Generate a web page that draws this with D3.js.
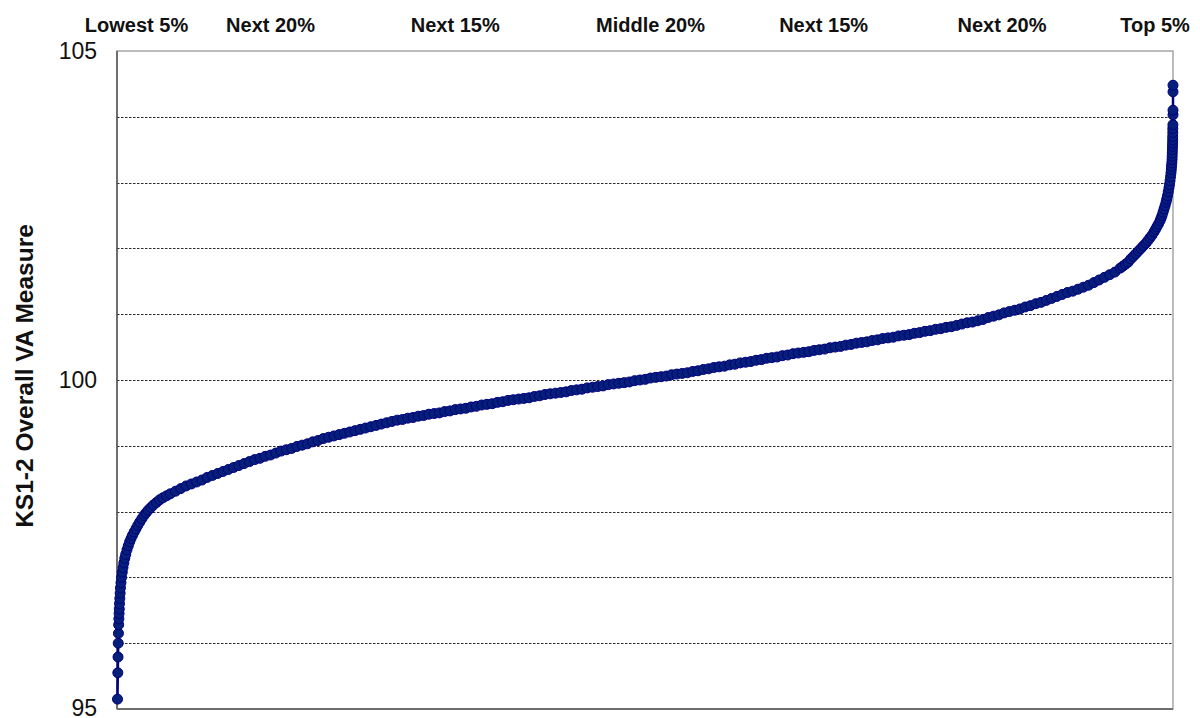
<!DOCTYPE html>
<html>
<head>
<meta charset="utf-8">
<script src="https://cdn.jsdelivr.net/npm/d3@7"></script>
<style>
  html, body { margin: 0; padding: 0; background: #fff; }
  svg { display: block; }
</style>
</head>
<body>
<svg id="chart" width="1200" height="718"></svg>
<script>
// ---- Data (percentile rank, KS1-2 VA measure) ----
const rankPct = [
  0,0.03,0.05,0.07,0.09,0.11,0.13,0.15,0.17,0.19,0.22,0.25,0.28,0.33,0.38,0.45,0.52,0.60,0.69,0.78,
  0.90,1.02,1.15,1.28,1.42,1.58,1.75,1.92,2.10,2.30,2.50,2.70,2.90,3.15,3.40,3.70,4.00,4.30,4.65,
  5,5.5,6,6.5,7,7.5,8,8.5,9,9.5,10,10.5,11,11.5,12,12.5,13,13.5,14,14.5,15,15.5,16,16.5,17,17.5,
  18,18.5,19,19.5,20,20.5,21,21.5,22,22.5,23,23.5,24,24.5,25,25.5,26,26.5,27,27.5,28,28.5,29,29.5,
  30,30.5,31,31.5,32,32.5,33,33.5,34,34.5,35,35.5,36,36.5,37,37.5,38,38.5,39,39.5,40,40.5,41,41.5,
  42,42.5,43,43.5,44,44.5,45,45.5,46,46.5,47,47.5,48,48.5,49,49.5,50,50.5,51,51.5,52,52.5,53,53.5,
  54,54.5,55,55.5,56,56.5,57,57.5,58,58.5,59,59.5,60,60.5,61,61.5,62,62.5,63,63.5,64,64.5,65,65.5,
  66,66.5,67,67.5,68,68.5,69,69.5,70,70.5,71,71.5,72,72.5,73,73.5,74,74.5,75,75.5,76,76.5,77,77.5,
  78,78.5,79,79.5,80,80.5,81,81.5,82,82.5,83,83.5,84,84.5,85,85.5,86,86.5,87,87.5,88,88.5,89,89.5,
  90,90.5,91,91.5,92,92.5,93,93.5,94,94.5,95,
  95.25,95.5,95.75,96.0,96.25,96.49,96.73,96.97,97.2,97.44,97.63,97.82,98.01,98.2,98.34,98.48,98.62,
  98.77,98.87,98.96,99.06,99.15,99.25,99.34,99.41,99.48,99.55,99.62,99.67,99.72,99.77,99.81,99.84,
  99.86,99.89,99.91,99.92,99.93,99.94,99.95,99.96,99.97,99.97,99.98,99.98,99.99,100,100,100,100
];
const vaMeasure = [
  95.15,95.55,95.79,96.00,96.15,96.28,96.37,96.45,96.52,96.60,96.68,96.76,96.84,96.92,97.00,97.08,97.15,97.22,97.29,97.35,
  97.42,97.48,97.54,97.59,97.64,97.69,97.74,97.79,97.84,97.89,97.94,97.98,98.02,98.06,98.10,98.14,98.18,98.21,98.24,
  98.27,98.31,98.35,98.39,98.42,98.45,98.48,98.52,98.55,98.58,98.61,98.64,98.67,98.70,98.73,98.76,98.79,98.81,98.84,98.86,98.89,98.92,98.94,98.96,98.99,99.01,
  99.03,99.06,99.08,99.11,99.13,99.15,99.17,99.19,99.21,99.23,99.25,99.27,99.29,99.31,99.33,99.35,99.37,99.39,99.40,99.42,99.43,99.45,99.46,99.48,
  99.49,99.50,99.52,99.53,99.55,99.56,99.57,99.59,99.60,99.62,99.63,99.64,99.66,99.67,99.69,99.70,99.71,99.72,99.73,99.75,99.76,99.78,99.79,99.80,
  99.81,99.82,99.84,99.85,99.86,99.88,99.89,99.90,99.91,99.93,99.94,99.95,99.96,99.97,99.99,100.00,100.01,100.03,100.04,100.05,100.06,100.08,100.09,100.10,
  100.11,100.13,100.14,100.16,100.17,100.19,100.20,100.21,100.23,100.24,100.26,100.27,100.28,100.30,100.31,100.33,100.34,100.35,100.37,100.38,100.40,100.41,100.42,100.43,
  100.45,100.46,100.47,100.49,100.50,100.51,100.53,100.54,100.56,100.57,100.58,100.60,100.61,100.63,100.64,100.65,100.67,100.68,100.69,100.71,100.72,100.74,100.75,100.77,
  100.78,100.80,100.81,100.83,100.85,100.87,100.88,100.90,100.92,100.95,100.97,100.99,101.02,101.04,101.06,101.08,101.11,101.13,101.16,101.18,101.21,101.24,101.27,101.30,
  101.33,101.35,101.38,101.41,101.44,101.48,101.52,101.56,101.60,101.64,101.70,
  101.73,101.76,101.79,101.84,101.88,101.92,101.96,102.00,102.04,102.08,102.12,102.16,102.20,102.25,102.29,102.33,102.37,
  102.42,102.46,102.50,102.55,102.60,102.65,102.70,102.75,102.80,102.86,102.92,102.97,103.03,103.09,103.15,103.20,
  103.25,103.30,103.35,103.40,103.45,103.50,103.55,103.60,103.65,103.70,103.76,103.82,103.88,104.03,104.10,104.38,104.48
];

const groupLabels = ["Lowest 5%", "Next 20%", "Next 15%", "Middle 20%", "Next 15%", "Next 20%", "Top 5%"];
const groupLabelPct = [1.8, 14.5, 32.0, 50.5, 66.9, 83.8, 98.3];
const yTickLabels = [95, 100, 105];
const gridValues = [96, 97, 98, 99, 100, 101, 102, 103, 104];
const yTitle = "KS1-2 Overall VA Measure";

// ---- Layout ----
const plot = { left: 117, right: 1173, top: 51, bottom: 709 };
const svg = d3.select("#chart");

const x = d3.scaleLinear().domain([0, 100]).range([plot.left + 0.5, plot.right]);
const y = d3.scaleLinear().domain([95, 105]).range([plot.bottom, plot.top]);

// Plot area border
svg.append("rect")
  .attr("x", plot.left).attr("y", plot.top)
  .attr("width", plot.right - plot.left).attr("height", plot.bottom - plot.top)
  .attr("fill", "#fff").attr("stroke", "#a6a6a6").attr("stroke-width", 1.5);

// Gridlines
svg.append("g").selectAll("line").data(gridValues).join("line")
  .attr("x1", plot.left).attr("x2", plot.right)
  .attr("y1", d => Math.round(y(d)) + 0.5).attr("y2", d => Math.round(y(d)) + 0.5)
  .attr("stroke", "#2a2a2a").attr("stroke-width", 1)
  .attr("stroke-dasharray", "2.5,1.5");

// Axis lines
svg.append("line").attr("x1", plot.left).attr("x2", plot.left)
  .attr("y1", plot.top).attr("y2", plot.bottom)
  .attr("stroke", "#555").attr("stroke-width", 1.5);
svg.append("line").attr("x1", plot.left).attr("x2", plot.right)
  .attr("y1", plot.bottom).attr("y2", plot.bottom)
  .attr("stroke", "#6e6e6e").attr("stroke-width", 2);

// Y axis labels via d3 axis
const yAxis = d3.axisLeft(y).tickValues(yTickLabels).tickSize(0).tickPadding(20).tickFormat(d3.format("d"));
const gy = svg.append("g").attr("transform", `translate(${plot.left},0)`).call(yAxis);
gy.select(".domain").remove();
gy.selectAll("text")
  .attr("font-family", "Liberation Sans, Arial, sans-serif")
  .attr("font-size", 23).attr("fill", "#111")
  .attr("dy", d => d === 95 ? "0.28em" : "0.32em");

// Y title
svg.append("text")
  .attr("transform", `translate(33,${(plot.top + plot.bottom) / 2 - 4}) rotate(-90)`)
  .attr("text-anchor", "middle")
  .attr("font-family", "Liberation Sans, Arial, sans-serif")
  .attr("font-weight", "bold").attr("font-size", 24.5).attr("fill", "#111")
  .text(yTitle);

// Group labels along top
svg.append("g").selectAll("text").data(groupLabels).join("text")
  .attr("x", (d, i) => x(groupLabelPct[i]))
  .attr("y", 32)
  .attr("text-anchor", "middle")
  .attr("font-family", "Liberation Sans, Arial, sans-serif")
  .attr("font-weight", "bold").attr("font-size", 20).attr("fill", "#111")
  .text(d => d);

// Series
const pts = rankPct.map((r, i) => ({ r, v: vaMeasure[i] }));
const line = d3.line().x(d => x(d.r)).y(d => y(d.v));
svg.append("path").datum(pts)
  .attr("d", line).attr("fill", "none")
  .attr("stroke", "#000080").attr("stroke-width", 2.5);

svg.append("g").selectAll("circle").data(pts).join("circle")
  .attr("cx", d => x(d.r)).attr("cy", d => y(d.v))
  .attr("r", 5)
  .attr("fill", "#061f78").attr("stroke", "#000080").attr("stroke-width", 1);
</script>
</body>
</html>
